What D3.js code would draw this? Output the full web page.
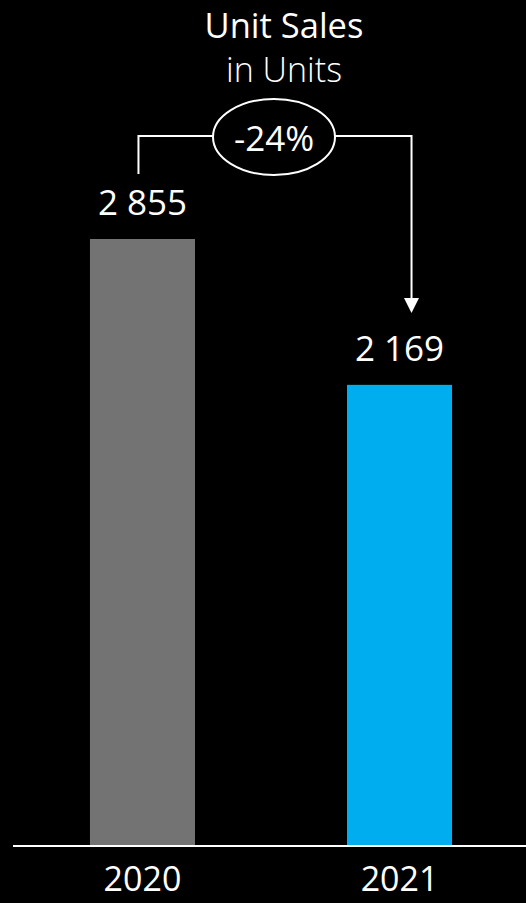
<!DOCTYPE html>
<html>
<head>
<meta charset="utf-8">
<script src="https://cdn.jsdelivr.net/npm/d3@7"></script>
<style>
  html, body { margin: 0; padding: 0; background: #000; }
  svg { display: block; }
  text { font-family: "Open Sans", "Noto Sans", sans-serif; fill: #fff; }
</style>
</head>
<body>
<div id="chart"></div>
<script>
// chart data
const years = ["2020", "2021"];
const unitSales = [2855, 2169];
const barColors = ["#737373", "#00aeef"];
const valueLabels = ["2 855", "2 169"];
const changeLabel = "-24%";
const titleText = "Unit Sales";
const subtitleText = "in Units";

const width = 526, height = 903;
const baseY = 846;

const svg = d3.select("#chart").append("svg")
    .attr("width", width)
    .attr("height", height);

// scales
const x = d3.scaleBand()
    .domain(years)
    .range([16, width])
    .paddingInner(0.5914)
    .paddingOuter(0.2877);

const y = d3.scaleLinear()
    .domain([0, d3.max(unitSales)])
    .range([baseY, 239]);

const rows = years.map((yr, i) => ({year: yr, value: unitSales[i], color: barColors[i], label: valueLabels[i]}));

// bars
svg.selectAll("rect.bar")
    .data(rows)
    .enter()
    .append("rect")
    .attr("class", "bar")
    .attr("x", d => x(d.year))
    .attr("y", d => y(d.value))
    .attr("width", x.bandwidth())
    .attr("height", d => y(0) - y(d.value))
    .attr("fill", d => d.color);

// baseline axis, runs from the left margin to the right edge
const xAxis = d3.axisBottom(x).tickSize(0).tickPadding(21);
const axisG = svg.append("g")
    .attr("transform", "translate(0," + baseY + ")")
    .call(xAxis);
axisG.select(".domain")
    .attr("d", "M13,0H" + width)
    .attr("stroke", "#fff")
    .attr("stroke-width", 2);
axisG.selectAll("text")
    .attr("fill", "#fff")
    .style("font-family", "'Open Sans', 'Noto Sans', sans-serif")
    .style("font-size", "34px");

// value labels
svg.selectAll("text.value")
    .data(rows)
    .enter()
    .append("text")
    .attr("class", "value")
    .attr("x", d => x(d.year) + x.bandwidth() / 2)
    .attr("y", d => y(d.value) - 24)
    .attr("text-anchor", "middle")
    .style("font-size", "35px")
    .text(d => d.label);

// title
svg.append("text")
    .attr("x", 284)
    .attr("y", 38)
    .attr("text-anchor", "middle")
    .style("font-size", "34.5px")
    .text(titleText);
svg.append("text")
    .attr("x", 284)
    .attr("y", 82)
    .attr("text-anchor", "middle")
    .style("font-size", "34px")
    .style("font-weight", 300)
    .text(subtitleText);

// change bracket with arrow
const x1 = x(years[0]) + x.bandwidth() / 2 - 4;
const x2 = x(years[1]) + x.bandwidth() / 2 + 12;
const bracketY = 136;
const cx = 274, cy = 137;

svg.append("path")
    .attr("d", "M" + x1 + "," + (y(unitSales[0]) - 65) + "V" + bracketY + "H" + x2 + "V" + 300)
    .attr("fill", "none")
    .attr("stroke", "#fff")
    .attr("stroke-width", 2);

svg.append("path")
    .attr("d", "M" + (x2 - 7.5) + ",298L" + (x2 + 7.5) + ",298L" + x2 + ",313Z")
    .attr("fill", "#fff");

svg.append("ellipse")
    .attr("cx", cx)
    .attr("cy", cy)
    .attr("rx", 61)
    .attr("ry", 38)
    .attr("fill", "#000")
    .attr("stroke", "#fff")
    .attr("stroke-width", 2);

svg.append("text")
    .attr("x", cx)
    .attr("y", 151)
    .attr("text-anchor", "middle")
    .style("font-size", "35px")
    .text(changeLabel);
</script>
</body>
</html>
